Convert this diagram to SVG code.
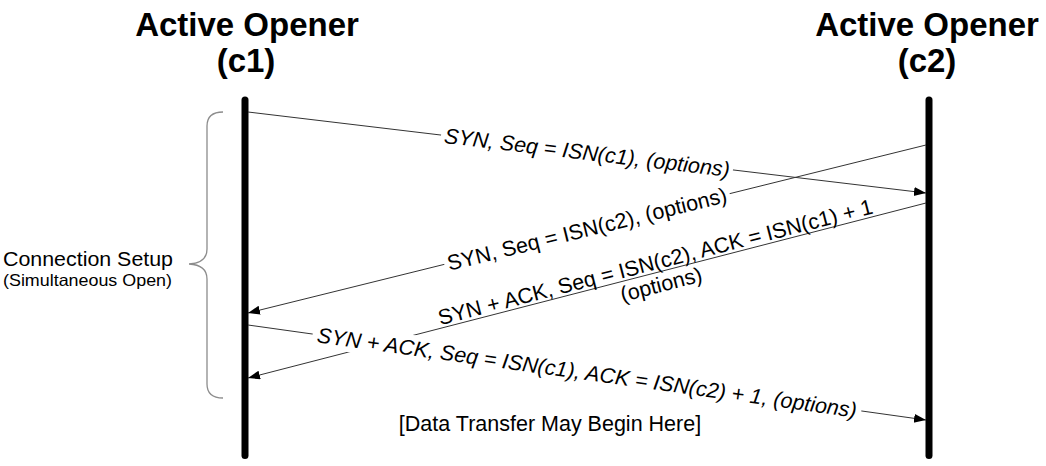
<svg xmlns="http://www.w3.org/2000/svg" width="1046" height="466" viewBox="0 0 1046 466">
<defs>
<style>
.hdr{font-family:"Liberation Sans",Arial,sans-serif;font-weight:bold;font-size:33px;fill:#000;text-anchor:middle}
.lbl{font-family:"Liberation Sans",Arial,sans-serif;font-size:21.5px;fill:#000;text-anchor:middle}
.it{font-style:italic}
.side{font-family:"Liberation Sans",Arial,sans-serif;fill:#000}
.life{stroke:#000;stroke-width:7;stroke-linecap:round;fill:none}
.msg{stroke:#333;stroke-width:1;fill:none;marker-end:url(#ah)}
.bg{fill:#fff;stroke:none}
.brace{stroke:#8c8c8c;stroke-width:1.3;fill:none}
</style>
<marker id="ah" markerUnits="userSpaceOnUse" markerWidth="13" markerHeight="10" refX="12" refY="4.5" orient="auto">
<path d="M0,0 L12,4.5 L0,9 Z" fill="#000"/>
</marker>
</defs>
<rect width="1046" height="466" fill="#fff"/>

<g id="c1">
<text class="hdr" x="247" y="36">Active Opener</text>
<text class="hdr" x="246" y="72">(c1)</text>
<line class="life" x1="245" y1="100" x2="245" y2="455.5"/>
</g>
<g id="c2">
<text class="hdr" x="927" y="36">Active Opener</text>
<text class="hdr" x="927" y="72">(c2)</text>
<line class="life" x1="929" y1="100" x2="929" y2="455.5"/>
</g>

<g id="setup">
<path class="brace" d="M223,112 Q207,112 207,126 L207,249 Q207,263 189,264 Q207,265 207,279 L207,384 Q207,398 223,398"/>
<text class="side" x="3" y="266" font-size="20.5" textLength="170" lengthAdjust="spacingAndGlyphs">Connection Setup</text>
<text class="side" x="3" y="286" font-size="16.5" textLength="169" lengthAdjust="spacingAndGlyphs">(Simultaneous Open)</text>
</g>

<g id="connectors">
<line class="msg" x1="248" y1="112" x2="926" y2="193"/>
<line class="msg" x1="926" y1="145" x2="248" y2="313"/>
<line class="msg" x1="926" y1="203" x2="248" y2="378"/>
<line class="msg" x1="248" y1="325" x2="926" y2="420"/>
<g transform="translate(587,152.5) rotate(6.813)"><rect class="bg" x="-147" y="-13" width="294" height="26"/></g>
<g transform="translate(587,229) rotate(-13.92)"><rect class="bg" x="-147" y="-13" width="294" height="26"/></g>
<g transform="translate(587,372.5) rotate(7.976)"><rect class="bg" x="-277" y="-13" width="554" height="26"/></g>
</g>

<g id="labels">
<g transform="translate(587,152.5) rotate(6.813)"><text class="lbl it" x="0" y="7.5">SYN, Seq = ISN(c1), (options)</text></g>
<g transform="translate(587,229) rotate(-13.92)"><text class="lbl" x="0" y="7.5">SYN, Seq = ISN(c2), (options)</text></g>
<g transform="translate(658,272.2) rotate(-14.47)"><text class="lbl" x="0" y="-3">SYN + ACK, Seq = ISN(c2), ACK = ISN(c1) + 1</text><text class="lbl" x="0" y="20">(options)</text></g>
<g transform="translate(587,372.5) rotate(7.976)"><text class="lbl it" x="0" y="7.5">SYN + ACK, Seq = ISN(c1), ACK = ISN(c2) + 1, (options)</text></g>
<text class="lbl" x="550" y="430.5">[Data Transfer May Begin Here]</text>
</g>
</svg>
